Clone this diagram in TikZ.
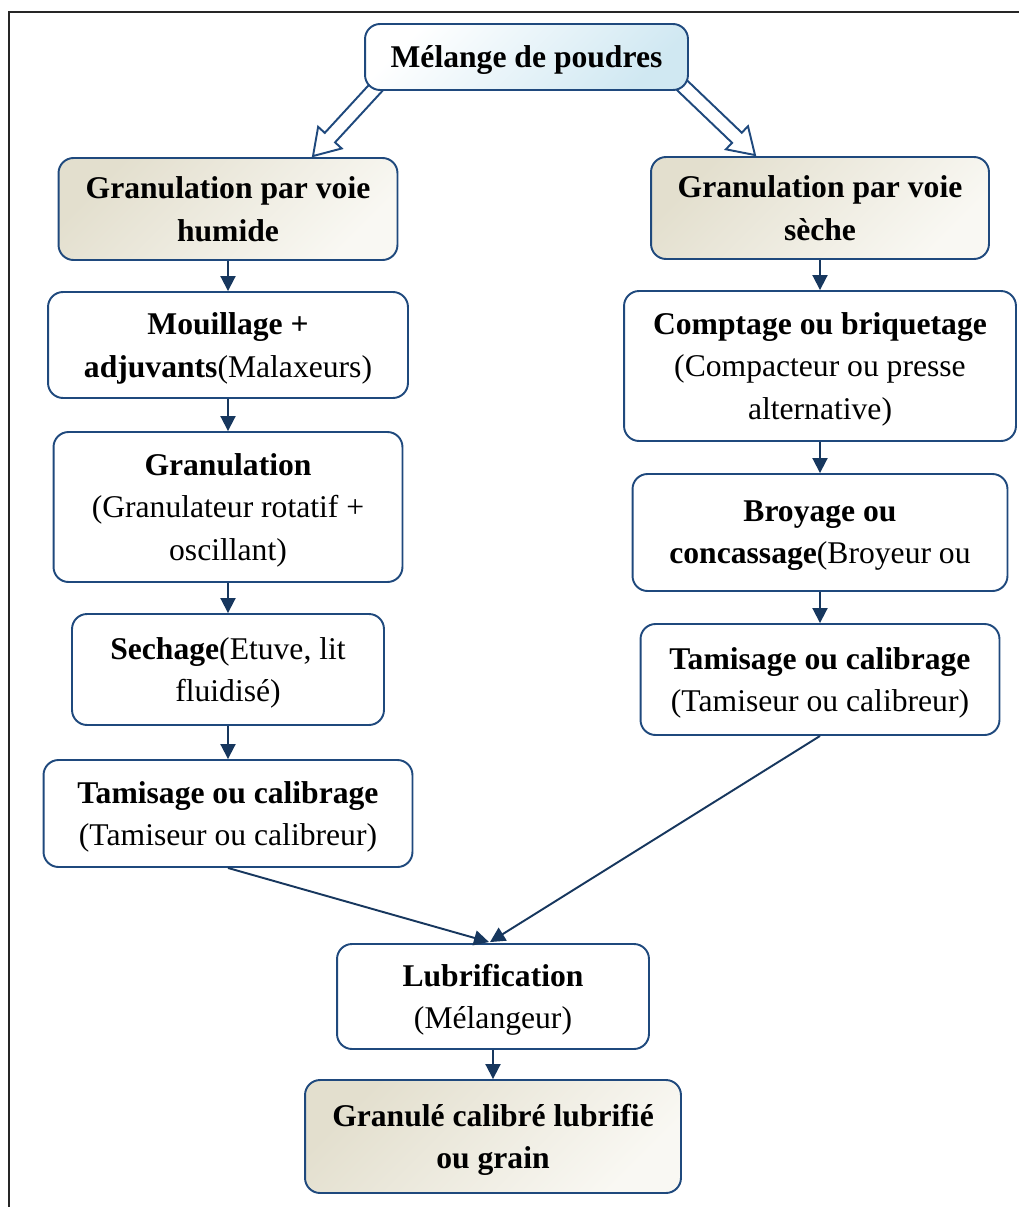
\documentclass[tikz,border=0pt]{standalone}
\usepackage{fontspec}
\setmainfont{Liberation Serif}
\usetikzlibrary{arrows.meta,calc,backgrounds}
\definecolor{boxline}{RGB}{31,73,125}
\definecolor{arrowblue}{RGB}{23,55,94}
\definecolor{paleblue}{RGB}{208,232,242}
\definecolor{tanlight}{RGB}{249,248,243}
\definecolor{tandark}{RGB}{227,223,206}

\begin{document}
\begin{tikzpicture}[x=0.02cm, y=-0.02cm,
    box/.style={draw=boxline, line width=1.1pt, rounded corners=0.3cm, fill=white,
        align=center, inner sep=0pt, font=\fontsize{18}{24}\selectfont, text depth=0pt},
    tanbox/.style={box, top color=tandark, bottom color=tanlight, shading angle=45},
    bluebox/.style={box, top color=white, bottom color=paleblue, shading angle=45},
    flow/.style={draw=arrowblue, line width=1.1pt, -{Triangle[width=0.3cm, length=0.3cm]}},
    hollow/.style={draw=boxline, line width=1.1pt, fill=white, line join=miter}
]
    \useasboundingbox (0,0) rectangle (1019,1207);

    % Frame
    \draw[black!85, line width=1.3pt] (9,1207) -- (9,12) -- (1019,12);

    % Top box
    \node[bluebox, minimum width=6.46cm, minimum height=1.32cm] (melange) at (526.5,57)
        {\textbf{Mélange de poudres}};

    % Wet route
    \node[tanbox, minimum width=6.78cm, minimum height=2.04cm] (humide) at (228,209)
        {\textbf{Granulation par voie}\\\textbf{humide}};
    \node[box, minimum width=7.20cm, minimum height=2.12cm] (mouill) at (228,345)
        {\textbf{Mouillage +}\\\textbf{adjuvants}(Malaxeurs)};
    \node[box, minimum width=6.98cm, minimum height=3.00cm] (granul) at (228,507)
        {\textbf{Granulation}\\(Granulateur rotatif +\\oscillant)};
    \node[box, minimum width=6.24cm, minimum height=2.22cm] (sechage) at (228,669.5)
        {\textbf{Sechage}(Etuve, lit\\fluidisé)};
    \node[box, minimum width=7.38cm, minimum height=2.14cm] (tamisL) at (228,813.5)
        {\textbf{Tamisage ou calibrage}\\(Tamiseur ou calibreur)};

    % Dry route
    \node[tanbox, minimum width=6.76cm, minimum height=2.04cm] (seche) at (820,208)
        {\textbf{Granulation par voie}\\\textbf{sèche}};
    \node[box, minimum width=7.84cm, minimum height=3.00cm] (compact) at (820,366)
        {\textbf{Comptage ou briquetage}\\(Compacteur ou presse\\alternative)};
    \node[box, minimum width=7.50cm, minimum height=2.34cm] (broyage) at (820,532.5)
        {\textbf{Broyage ou}\\\textbf{concassage}(Broyeur ou};
    \node[box, minimum width=7.18cm, minimum height=2.22cm] (tamisR) at (820,679.5)
        {\textbf{Tamisage ou calibrage}\\(Tamiseur ou calibreur)};

    % End of the process
    \node[box, minimum width=6.24cm, minimum height=2.10cm] (lubri) at (493,996.5)
        {\textbf{Lubrification}\\(Mélangeur)};
    \node[tanbox, minimum width=7.52cm, minimum height=2.26cm] (grain) at (493,1136.5)
        {\textbf{Granulé calibré lubrifié}\\\textbf{ou grain}};

    % Hollow arrows from the top box
    \coordinate (tailL) at ($(melange.south west)+(29,-22)$);
    \coordinate (tipL) at ($(humide.north)+(85,-1)$);
    \coordinate (tailR) at ($(melange.south east)+(-26,-24)$);
    \coordinate (tipR) at ($(seche.north)+(-65,-1)$);
    \begin{pgfonlayer}{background}
    \foreach \a/\b in {tailL/tipL, tailR/tipR} {
        \draw[hollow] ($(\a)!0.14cm!90:(\b)$) -- ($(\b)!0.5cm!(\a)!0.14cm!90:(\b)$)
            -- ($(\b)!0.5cm!(\a)!0.32cm!90:(\b)$) -- (\b)
            -- ($(\b)!0.5cm!(\a)!0.32cm!-90:(\b)$) -- ($(\b)!0.5cm!(\a)!0.14cm!-90:(\b)$)
            -- ($(\a)!0.14cm!-90:(\b)$) -- cycle;
    }
    \end{pgfonlayer}

    % Small arrows
    \foreach \u/\v in {humide/mouill, mouill/granul, granul/sechage, sechage/tamisL,
                       seche/compact, compact/broyage, broyage/tamisR, lubri/grain} {
        \draw[flow] (\u.south) -- (\v.north);
    }
    \draw[flow] (tamisL.south) -- ($(lubri.north)+(-4,-1)$);
    \draw[flow] (tamisR.south) -- ($(lubri.north)+(-3,-1)$);
\end{tikzpicture}
\end{document}
